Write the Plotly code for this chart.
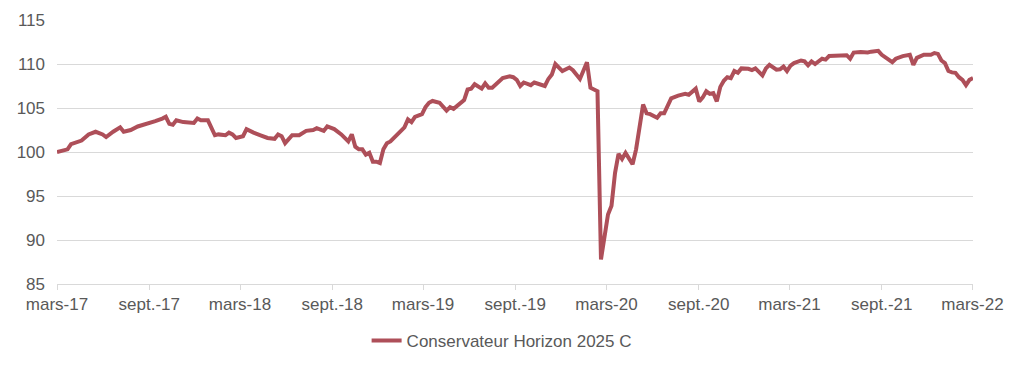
import pandas as pd
import plotly.graph_objects as go

# Week offsets (from 2017-03-01) and index values
weeks = [0, 2, 3, 4, 6, 7, 9, 11, 13, 14, 16, 18, 19, 21, 23, 24, 26, 28, 30, 31,
         32, 33, 34, 36, 39, 40, 41, 43, 45, 46, 48, 49, 50, 51, 53, 54, 56, 57, 58, 60,
         61, 62, 63, 64, 65, 67, 69, 70, 71, 73, 74, 76, 77, 79, 81, 83, 84, 85, 86, 87,
         88, 89, 90, 91, 92, 93, 94, 95, 97, 98, 99, 100, 101, 102, 104, 105, 106, 107, 109, 111,
         112, 113, 115, 116, 117, 118, 119, 120, 121, 122, 123, 124, 126, 127, 129, 130, 131, 132, 133, 135,
         136, 138, 139, 140, 141, 142, 144, 146, 147, 149, 150, 151, 152, 154, 155, 157, 158, 159, 160, 161,
         162, 163, 164, 165, 166, 167, 168, 169, 171, 172, 173, 174, 175, 177, 178, 179, 180, 182, 183, 184,
         185, 186, 187, 188, 189, 190, 191, 192, 193, 194, 195, 197, 198, 199, 201, 202, 203, 205, 206, 207,
         208, 209, 210, 212, 213, 214, 215, 216, 218, 219, 220, 222, 224, 225, 226, 227, 229, 231, 232, 234,
         235, 238, 239, 241, 243, 244, 245, 247, 249, 250, 251, 252, 253, 254, 255, 256, 257, 258, 259, 260,
         261]
values = [100.0, 100.2, 100.3, 100.9, 101.1, 101.3, 102.0, 102.3, 102.0, 101.7, 102.3, 102.8, 102.3, 102.5, 102.9, 103.0, 103.2, 103.5, 103.8, 104.0,
          103.2, 103.1, 103.6, 103.4, 103.3, 103.8, 103.6, 103.6, 101.9, 102.0, 101.9, 102.2, 102.0, 101.6, 101.8, 102.6, 102.2, 102.0, 101.9, 101.6,
          101.5, 101.5, 102.0, 101.8, 101.0, 101.9, 101.9, 102.2, 102.4, 102.5, 102.7, 102.4, 102.9, 102.6, 102.0, 101.2, 102.0, 100.6, 100.3, 100.3,
          99.7, 99.9, 98.9, 98.9, 98.75, 100.3, 101.0, 101.2, 102.0, 102.4, 102.8, 103.7, 103.4, 104.0, 104.3, 105.1, 105.6, 105.8, 105.6, 104.7,
          105.1, 104.9, 105.6, 105.9, 107.1, 107.2, 107.7, 107.5, 107.2, 107.8, 107.3, 107.3, 108.0, 108.4, 108.6, 108.5, 108.2, 107.5, 107.9, 107.6,
          107.9, 107.6, 107.5, 108.3, 108.8, 110.0, 109.2, 109.6, 109.3, 108.3, 109.35, 110.2, 107.3, 106.9, 87.8, 92.9, 93.9, 97.6, 99.8, 99.2,
          99.9, 99.3, 98.6, 100.3, 102.9, 105.4, 104.4, 104.3, 103.9, 104.4, 104.4, 105.4, 106.1, 106.4, 106.5, 106.6, 106.5, 107.2, 105.75, 106.2,
          106.9, 106.6, 106.7, 105.75, 107.4, 108.1, 108.5, 108.4, 109.2, 109.0, 109.5, 109.45, 109.3, 109.5, 108.7, 109.5, 109.9, 109.35, 109.4, 109.7,
          109.2, 109.8, 110.1, 110.4, 110.3, 109.85, 110.3, 110.0, 110.6, 110.5, 110.9, 110.9, 110.95, 111.0, 110.6, 111.3, 111.35, 111.3, 111.4, 111.5,
          111.05, 110.2, 110.6, 110.9, 111.05, 109.9, 110.7, 111.05, 111.05, 111.25, 111.15, 110.4, 110.1, 109.2, 109.05, 109.0, 108.5, 108.2, 107.6, 108.2,
          108.4]

tick_dates = ["2017-03-01", "2017-09-01", "2018-03-01", "2018-09-01", "2019-03-01", "2019-09-01",
              "2020-03-01", "2020-09-01", "2021-03-01", "2021-09-01", "2022-03-01"]
tick_labels = ["mars-17", "sept.-17", "mars-18", "sept.-18", "mars-19", "sept.-19",
               "mars-20", "sept.-20", "mars-21", "sept.-21", "mars-22"]
y_ticks = [85, 90, 95, 100, 105, 110, 115]
series_name = "Conservateur Horizon 2025 C"

base = pd.Timestamp("2017-03-01")
dates = [base + pd.Timedelta(days=7 * w) for w in weeks]

fig = go.Figure()
fig.add_trace(go.Scatter(
    x=dates, y=values, mode="lines", name=series_name,
    line=dict(color="#AE4F59", width=4),
))

font_color = "#595959"
fig.update_layout(
    width=1015, height=361,
    margin=dict(l=49, r=50, t=12, b=85, autoexpand=False),
    plot_bgcolor="white", paper_bgcolor="white",
    font=dict(family="Liberation Sans, Arial, sans-serif", size=17, color=font_color),
    showlegend=True,
    legend=dict(orientation="h", x=0.338, xanchor="left", y=-0.216, yanchor="middle",
                font=dict(size=17, color=font_color)),
    xaxis=dict(
        type="date", automargin=False,
        range=[base, base + pd.Timedelta(days=7 * 261)],
        tickvals=tick_dates, ticktext=tick_labels,
        showgrid=False, showline=True, linecolor="#d9d9d9", linewidth=1,
        ticks="outside", ticklen=5, tickcolor="#d9d9d9",
        tickfont=dict(size=17, color=font_color),
        zeroline=False,
    ),
    yaxis=dict(
        automargin=False,
        range=[85, 115], tickvals=y_ticks,
        showgrid=True, gridcolor="#d9d9d9", gridwidth=1,
        showline=False, zeroline=False, ticks="",
        tickfont=dict(size=17, color=font_color),
        ticklabelstandoff=11,
    ),
)

fig.write_html("out.html")
